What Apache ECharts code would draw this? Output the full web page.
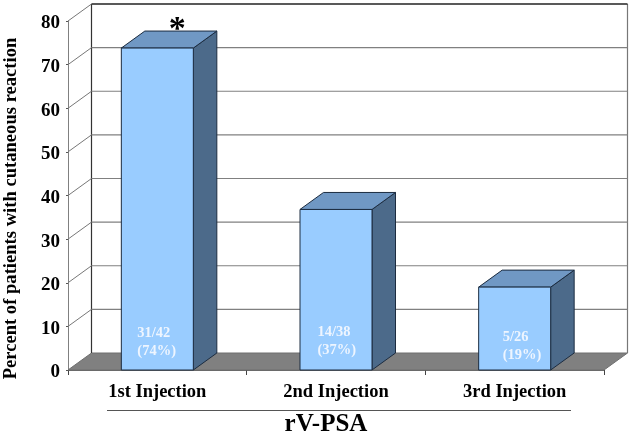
<!DOCTYPE html>
<html><head><meta charset="utf-8">
<style>html,body{margin:0;padding:0;background:#fff}#c{width:633px;height:434px}</style>
<script src="https://cdn.jsdelivr.net/npm/echarts@6/dist/echarts.min.js"></script>
</head><body><div id="c"></div>
<script>
const categories = ['1st Injection', '2nd Injection', '3rd Injection'];
const percentValues = [73.8, 36.8, 19];
const barNotes = ['31/42\n(74%)', '14/38\n(37%)', '5/26\n(19%)'];
const yTicks = [0, 10, 20, 30, 40, 50, 60, 70, 80];
const yTitle = 'Percent of patients with cutaneous reaction';
const xTitle = 'rV-PSA';
const marker = '*';

const SERIF = '"Liberation Serif","Times New Roman",serif';
const DX = 23.5, DY = -17, BAR_W = 72;
const NOTE_POS = [[-20, -46], [-18.5, -47], [-12, -42]];

const chart = echarts.init(document.getElementById('c'), null, {renderer: 'canvas'});

function wall(params, api) {
  const v = api.value(0);
  const y = api.coord([0, v])[1];
  const x0 = params.coordSys.x;
  const W = params.coordSys.width;
  const children = [];
  if (v === 0) {
    const topY = api.coord([0, 80])[1];
    children.push({type: 'polygon', shape: {points: [[x0, y], [x0 + DX, y + DY], [x0 + W + DX, y + DY], [x0 + W, y]]},
      style: {fill: '#808080', stroke: '#6f6f6f', lineWidth: 1}});
    children.push({type: 'line', shape: {x1: x0 + W + DX, y1: topY + DY, x2: x0 + W + DX, y2: y + DY},
      style: {stroke: '#777', lineWidth: 1.2}});
    children.push({type: 'line', shape: {x1: x0 + DX, y1: topY + DY, x2: x0 + DX, y2: y + DY},
      style: {stroke: '#333', lineWidth: 1.2}});
  } else {
    children.push({type: 'line', shape: {x1: x0 + DX, y1: y + DY, x2: x0 + W + DX, y2: y + DY},
      style: {stroke: v === 80 ? '#222' : '#808080', lineWidth: v === 80 ? 1.4 : 1.2}});
    children.push({type: 'line', shape: {x1: x0, y1: y, x2: x0 + DX, y2: y + DY},
      style: {stroke: '#777', lineWidth: 1}});
  }
  return {type: 'group', children};
}

function bar3d(params, api) {
  const i = params.dataIndex;
  const top = api.coord([api.value(0), api.value(1)]);
  const base = api.coord([api.value(0), 0]);
  const l = top[0] - BAR_W / 2, r = top[0] + BAR_W / 2, t = top[1], b = base[1];
  const edge = '#1c2c40';
  const children = [
    {type: 'polygon', shape: {points: [[r, t], [r + DX, t + DY], [r + DX, b + DY], [r, b]]},
      style: {fill: '#4c6a8a', stroke: edge, lineWidth: 1}},
    {type: 'polygon', shape: {points: [[l, t], [l + DX, t + DY], [r + DX, t + DY], [r, t]]},
      style: {fill: '#7098c4', stroke: edge, lineWidth: 1}},
    {type: 'rect', shape: {x: l, y: t, width: BAR_W, height: b - t},
      style: {fill: '#99ccff', stroke: edge, lineWidth: 1}},
    {type: 'text', x: top[0] + NOTE_POS[i][0], y: b + NOTE_POS[i][1],
      style: {text: barNotes[i], fill: '#eef5ff', font: 'bold 14.5px ' + SERIF, lineHeight: 18,
        align: 'left', verticalAlign: 'top'}}
  ];
  if (i === 0) {
    children.push({type: 'text', x: top[0] + 20, y: t + DY - 18,
      style: {text: marker, fill: '#000', font: 'bold 34px ' + SERIF, align: 'center', verticalAlign: 'top'}});
  }
  return {type: 'group', children};
}

chart.setOption({
  animation: false,
  backgroundColor: '#fff',
  textStyle: {fontFamily: SERIF},
  grid: {left: 68, right: 29, top: 21, bottom: 64, containLabel: false, outerBoundsMode: 'none'},
  xAxis: {
    type: 'category', data: categories,
    name: xTitle, nameLocation: 'middle', nameGap: 42,
    nameTextStyle: {fontFamily: SERIF, fontWeight: 'bold', fontSize: 25, color: '#000', verticalAlign: 'top', padding: [0, 20, 0, 0]},
    axisLine: {lineStyle: {color: '#666', width: 1}},
    axisTick: {show: true, length: 5, alignWithLabel: false, lineStyle: {color: '#444'}},
    axisLabel: {fontFamily: SERIF, fontWeight: 'bold', fontSize: 18.5, color: '#000', margin: 13},
    splitLine: {show: false}
  },
  yAxis: {
    type: 'value', min: 0, max: 80, interval: 10,
    name: yTitle, nameLocation: 'middle', nameGap: 47, nameRotate: 90,
    nameTextStyle: {fontFamily: SERIF, fontWeight: 'bold', fontSize: 18.6, color: '#000', padding: [0, 26, 0, 0]},
    axisLine: {show: true, lineStyle: {color: '#808080', width: 1}},
    axisTick: {show: true, length: 2, lineStyle: {color: '#555'}},
    axisLabel: {
      margin: 8, formatter: '{n|{value}}',
      rich: {n: {fontFamily: SERIF, fontWeight: 'bold', fontSize: 19, color: '#000', padding: [5, 0, 0, 0]}}
    },
    splitLine: {show: false}
  },
  series: [
    {type: 'custom', renderItem: wall, data: yTicks.map(v => [v]), encode: {y: 0}, z: 1, silent: true},
    {type: 'custom', renderItem: bar3d, data: percentValues.map((v, i) => [i, v]), encode: {x: 0, y: 1}, z: 3, silent: true}
  ],
  graphic: [{type: 'line', shape: {x1: 107, y1: 410.5, x2: 571, y2: 410.5}, style: {stroke: '#555', lineWidth: 1}}]
});
</script></body></html>
